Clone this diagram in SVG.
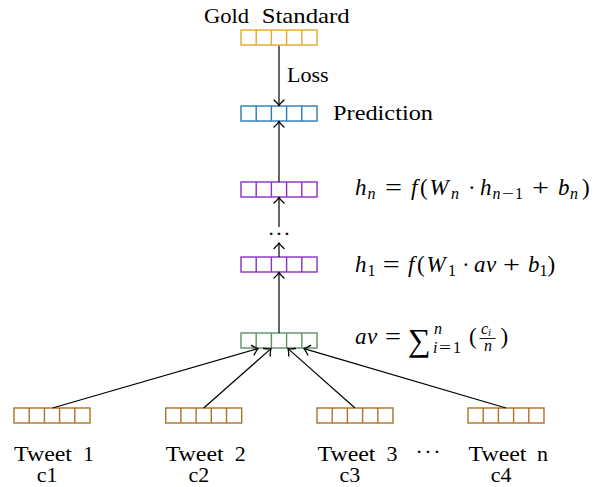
<svg xmlns="http://www.w3.org/2000/svg" width="594" height="487" viewBox="0 0 594 487">
<defs>
  <marker id="arr" markerUnits="userSpaceOnUse" markerWidth="14" markerHeight="14" viewBox="-7 -7 14 14" refX="0" refY="0" orient="auto">
    <path d="M-5.5,-5 Q-2,-1.2 0,0 Q-2,1.2 -5.5,5" fill="none" stroke="#000" stroke-width="1.3" stroke-linecap="round"/>
  </marker>
  <g id="vec">
    <rect x="0" y="0" width="76" height="15" fill="#fff" stroke="currentColor" stroke-width="1.4"/>
    <path d="M15.2,0V15M30.4,0V15M45.6,0V15M60.8,0V15" stroke="currentColor" stroke-width="1.4" fill="none"/>
  </g>
</defs>
<rect width="594" height="487" fill="#fff"/>

<g font-family="Liberation Serif" fill="#000" font-size="22">

<g id="gold-standard" color="#e6a72a">
  <use href="#vec" x="241" y="30"/>
  <text font-family="Liberation Serif" y="22.5"><tspan x="204" textLength="45" lengthAdjust="spacingAndGlyphs">Gold</tspan> <tspan x="261.7" textLength="88" lengthAdjust="spacingAndGlyphs">Standard</tspan></text>
</g>

<g id="prediction" color="#2a7ab5">
  <use href="#vec" x="241" y="106"/>
  <text font-family="Liberation Serif" x="333" y="120" textLength="100" lengthAdjust="spacingAndGlyphs">Prediction</text>
</g>

<g id="hn" color="#8e2fc2">
  <use href="#vec" x="241" y="182"/>
  <text font-family="Liberation Serif" font-size="23">
    <tspan font-style="italic" x="355" y="195">h</tspan><tspan font-style="italic" font-size="16" x="367.5" y="199">n</tspan>
    <tspan x="385" y="195" textLength="17" lengthAdjust="spacingAndGlyphs">=</tspan>
    <tspan font-style="italic" x="411" y="195">f</tspan><tspan x="420" y="195">(</tspan><tspan font-style="italic" x="429.5" y="195">W</tspan><tspan font-style="italic" font-size="16" x="451" y="199">n</tspan>
    <tspan x="468" y="195">·</tspan>
    <tspan font-style="italic" x="480" y="195">h</tspan><tspan font-style="italic" font-size="16" x="492.5" y="199">n</tspan><tspan font-size="16" x="502" y="199" textLength="12" lengthAdjust="spacingAndGlyphs">−</tspan><tspan font-size="16" x="515" y="199">1</tspan>
    <tspan x="532" y="195" textLength="17" lengthAdjust="spacingAndGlyphs">+</tspan>
    <tspan font-style="italic" x="558" y="195">b</tspan><tspan font-style="italic" font-size="16" x="570" y="199">n</tspan><tspan x="582" y="195">)</tspan>
  </text>
</g>

<g id="h1" color="#8e2fc2">
  <use href="#vec" x="241" y="257"/>
  <text font-family="Liberation Serif" font-size="23">
    <tspan font-style="italic" x="355" y="271.5">h</tspan><tspan font-size="16" x="367.5" y="275.5">1</tspan>
    <tspan x="382.8" y="271.5" textLength="17" lengthAdjust="spacingAndGlyphs">=</tspan>
    <tspan font-style="italic" x="408" y="271.5">f</tspan><tspan x="417" y="271.5">(</tspan><tspan font-style="italic" x="426.5" y="271.5">W</tspan><tspan font-size="16" x="448" y="275.5">1</tspan>
    <tspan x="462" y="271.5">·</tspan>
    <tspan font-style="italic" x="474" y="271.5">a</tspan><tspan font-style="italic" x="486" y="271.5">v</tspan>
    <tspan x="503" y="271.5" textLength="17" lengthAdjust="spacingAndGlyphs">+</tspan>
    <tspan font-style="italic" x="528" y="271.5">b</tspan><tspan font-size="16" x="539.5" y="275.5">1</tspan><tspan x="547.5" y="271.5">)</tspan>
  </text>
</g>

<g id="av" color="#5f8f66">
  <use href="#vec" x="241" y="333"/>
  <text font-family="Liberation Serif" font-size="23">
    <tspan font-style="italic" x="355" y="344">a</tspan><tspan font-style="italic" x="367" y="344">v</tspan>
    <tspan x="385" y="344" textLength="16" lengthAdjust="spacingAndGlyphs">=</tspan>
    <tspan x="408" y="351" font-size="32">∑</tspan>
    <tspan font-style="italic" font-size="16" x="434" y="334">n</tspan>
    <tspan font-style="italic" font-size="16" x="433" y="353">i</tspan><tspan font-size="16" x="439" y="353" textLength="12" lengthAdjust="spacingAndGlyphs">=</tspan><tspan font-size="16" x="453" y="353">1</tspan>
    <tspan x="469" y="344">(</tspan>
    <tspan font-style="italic" font-size="16" x="481" y="334">c</tspan><tspan font-style="italic" font-size="11" x="488" y="336">i</tspan>
    <tspan font-style="italic" font-size="16" x="484" y="351">n</tspan>
    <tspan x="500.5" y="344">)</tspan>
  </text>
  <line x1="479.5" y1="338.5" x2="495.5" y2="338.5" stroke="#000" stroke-width="0.9"/>
</g>

<g id="tweet1" color="#aa7326">
  <use href="#vec" x="14" y="408"/>
  <text font-family="Liberation Serif" x="14" y="460.5" textLength="58" lengthAdjust="spacingAndGlyphs">Tweet</text>
  <text font-family="Liberation Serif" x="83" y="460.5">1</text>
  <text font-family="Liberation Serif" x="36.7" y="482">c1</text>
</g>
<g id="tweet2" color="#aa7326">
  <use href="#vec" x="165.7" y="408"/>
  <text font-family="Liberation Serif" x="165.7" y="460.5" textLength="58" lengthAdjust="spacingAndGlyphs">Tweet</text>
  <text font-family="Liberation Serif" x="234.7" y="460.5">2</text>
  <text font-family="Liberation Serif" x="188.4" y="482">c2</text>
</g>
<g id="tweet3" color="#aa7326">
  <use href="#vec" x="317" y="408"/>
  <text font-family="Liberation Serif" x="317.5" y="460.5" textLength="58" lengthAdjust="spacingAndGlyphs">Tweet</text>
  <text font-family="Liberation Serif" x="386.5" y="460.5">3</text>
  <text font-family="Liberation Serif" x="339.4" y="482">c3</text>
</g>
<g id="tweetn" color="#aa7326">
  <use href="#vec" x="468" y="408"/>
  <text font-family="Liberation Serif" x="468.5" y="460.5" textLength="58" lengthAdjust="spacingAndGlyphs">Tweet</text>
  <text font-family="Liberation Serif" x="537" y="460.5">n</text>
  <text font-family="Liberation Serif" x="490.7" y="482">c4</text>
</g>

<g id="dots-tweets">
  <text font-family="Liberation Serif" x="428" y="459" text-anchor="middle" textLength="25" lengthAdjust="spacing">· · ·</text>
</g>
<g id="dots-layers">
  <text font-family="Liberation Serif" x="279" y="240.5" text-anchor="middle" textLength="23" lengthAdjust="spacing">· · ·</text>
</g>

<g id="loss-label">
  <text font-family="Liberation Serif" x="287" y="82">Loss</text>
</g>

</g>

<g id="connectors" stroke="#000" stroke-width="1.2" fill="none" marker-end="url(#arr)">
  <line x1="279" y1="45.7" x2="279" y2="105.4"/>
  <line x1="279" y1="182" x2="279" y2="121.6"/>
  <line x1="279" y1="227" x2="279" y2="197.6"/>
  <line x1="279" y1="257" x2="279" y2="243"/>
  <line x1="279" y1="333" x2="279" y2="272.6"/>
  <line x1="52.5" y1="408" x2="258" y2="348.6"/>
  <line x1="203.7" y1="408" x2="271" y2="348.6"/>
  <line x1="355" y1="408" x2="288" y2="348.6"/>
  <line x1="506" y1="408" x2="304" y2="348.6"/>
</g>
</svg>
